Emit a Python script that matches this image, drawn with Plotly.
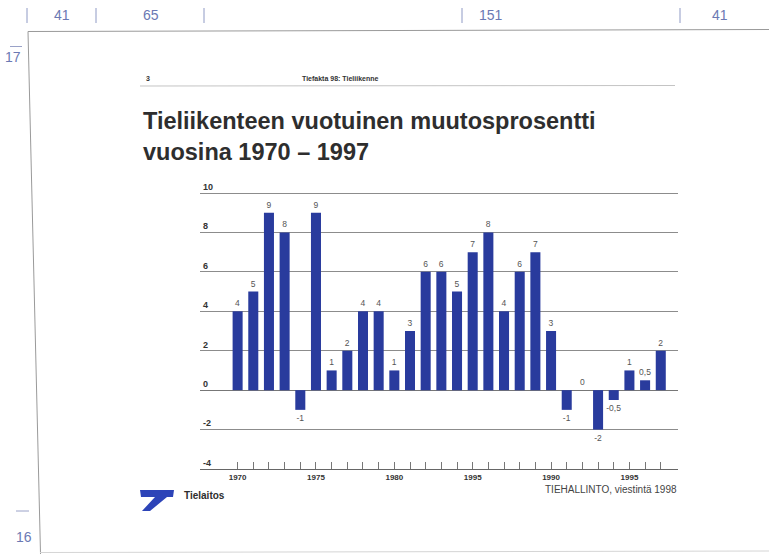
import plotly.graph_objects as go

# Annual percentage change in road traffic, 1970-1997
years = list(range(1970, 1998))
change = [4, 5, 9, 8, -1, 9, 1, 2, 4, 4, 1, 3, 6, 6, 5, 7, 8, 4, 6, 7, 3, -1, 0, -2, -0.5, 1, 0.5, 2]

# Year labels on the horizontal axis (as printed)
label_years = [1970, 1975, 1980, 1985, 1990, 1995]
label_texts = ["1970", "1975", "1980", "1995", "1990", "1995"]

y_ticks = [-4, -2, 0, 2, 4, 6, 8, 10]

W, H = 769, 554
BAR = "#293b9d"
MARGIN_BLUE = "#6b79b3"


def px(x):
    return x / W


def py(y):
    return 1 - y / H


def fmt(v):
    s = ("%g" % v)
    return s.replace(".", ",")


tick_text = [label_texts[label_years.index(y)] if y in label_years else "" for y in years]

# vertical scale: -4 sits at y=469 px, 10 at y=193 px; leave headroom for the top label
unit = (469 - 193) / 14.0
y_top = 10.7
top_px = 469 - (y_top + 4) * unit

fig = go.Figure()
fig.add_trace(go.Bar(
    x=years, y=change, width=0.64,
    marker=dict(color=BAR, line=dict(width=0)),
    text=[fmt(v) for v in change], textposition="outside",
    textfont=dict(family="Liberation Sans, Arial, sans-serif", size=8.5, color="#555555"),
    constraintext="none",
    cliponaxis=False, hoverinfo="x+y",
))

fig.update_layout(
    width=W, height=H,
    margin=dict(l=0, r=0, t=0, b=0),
    paper_bgcolor="white", plot_bgcolor="white",
    showlegend=False,
    bargap=0.36,
    uniformtext=dict(mode=False),
    xaxis=dict(
        domain=[px(200), px(678)],
        range=[1967.6, 1998.1],
        tickmode="array", tickvals=years, ticktext=tick_text,
        ticks="inside", ticklen=7, tickwidth=1, tickcolor="#777777",
        showgrid=False, zeroline=False,
        showline=True, linecolor="#666666", linewidth=1,
        tickfont=dict(family="Liberation Sans, Arial, sans-serif", size=8, color="#333333", weight="bold"),
        automargin=False, fixedrange=True,
    ),
    yaxis=dict(
        domain=[py(469), py(top_px)],
        range=[-4, y_top],
        tickmode="array", tickvals=y_ticks,
        ticktext=[str(v) for v in y_ticks],
        ticklabelposition="inside top",
        ticks="", showgrid=True, gridcolor="#8c8c8c", gridwidth=1,
        zeroline=True, zerolinecolor="#777777", zerolinewidth=1,
        showline=False,
        tickfont=dict(family="Liberation Sans, Arial, sans-serif", size=9, color="#333333", weight="bold"),
        automargin=False, fixedrange=True,
    ),
)

shapes = []
annotations = []

# Page frame of the printed sheet
shapes.append(dict(type="line", xref="paper", yref="paper",
                   x0=px(28), y0=py(31.5), x1=px(769), y1=py(29.5),
                   line=dict(color="#9a9a9a", width=1)))
shapes.append(dict(type="line", xref="paper", yref="paper",
                   x0=px(28), y0=py(31.5), x1=px(40.5), y1=py(554),
                   line=dict(color="#9a9a9a", width=1)))
shapes.append(dict(type="line", xref="paper", yref="paper",
                   x0=px(40), y0=py(552.5), x1=px(769), y1=py(551),
                   line=dict(color="#d5d5d5", width=1)))

# Column-width markers above the sheet
for x in [27, 96, 204, 462, 680]:
    shapes.append(dict(type="line", xref="paper", yref="paper",
                       x0=px(x), y0=py(8), x1=px(x), y1=py(23),
                       line=dict(color="#8f9ac5", width=1)))
for txt, x in [("41", 62), ("65", 151), ("151", 491), ("41", 720)]:
    annotations.append(dict(text=txt, x=px(x), y=py(15), xref="paper", yref="paper",
                            xanchor="center", yanchor="middle", showarrow=False,
                            font=dict(family="Liberation Sans Narrow, Liberation Sans, sans-serif",
                                      size=14, color=MARGIN_BLUE)))

# Row-height markers at the left edge
shapes.append(dict(type="line", xref="paper", yref="paper",
                   x0=px(10), y0=py(46.5), x1=px(22), y1=py(46.5),
                   line=dict(color="#9aa2c8", width=1)))
shapes.append(dict(type="line", xref="paper", yref="paper",
                   x0=px(16), y0=py(511), x1=px(29), y1=py(511),
                   line=dict(color="#9aa2c8", width=1)))
annotations.append(dict(text="17", x=px(13), y=py(57), xref="paper", yref="paper",
                        xanchor="center", yanchor="middle", showarrow=False,
                        font=dict(family="Liberation Sans Narrow, Liberation Sans, sans-serif",
                                  size=14, color=MARGIN_BLUE)))
annotations.append(dict(text="16", x=px(24), y=py(537), xref="paper", yref="paper",
                        xanchor="center", yanchor="middle", showarrow=False,
                        font=dict(family="Liberation Sans Narrow, Liberation Sans, sans-serif",
                                  size=14, color=MARGIN_BLUE)))

# Running header
annotations.append(dict(text="<b>3</b>", x=px(144), y=py(78), xref="paper", yref="paper",
                        xanchor="left", yanchor="middle", showarrow=False,
                        font=dict(family="Liberation Sans, Arial, sans-serif", size=7, color="#333333")))
annotations.append(dict(text="<b>Tiefakta 98: Tieliikenne</b>", x=px(300), y=py(78),
                        xref="paper", yref="paper", xanchor="left", yanchor="middle", showarrow=False,
                        font=dict(family="Liberation Sans, Arial, sans-serif", size=7, color="#333333")))
shapes.append(dict(type="line", xref="paper", yref="paper",
                   x0=px(140), y0=py(86), x1=px(675), y1=py(85.5),
                   line=dict(color="#c4c4c4", width=1)))

# Chart title
annotations.append(dict(text="<b>Tieliikenteen vuotuinen muutosprosentti<br>vuosina 1970 – 1997</b>",
                        x=px(141), y=py(106), xref="paper", yref="paper",
                        xanchor="left", yanchor="top", align="left", showarrow=False,
                        font=dict(family="Liberation Sans, Arial, sans-serif", size=23.5, color="#2e2e2e")))

# Publisher mark
shapes.append(dict(type="path", xref="paper", yref="paper",
                   path="M {} {} L {} {} L {} {} L {} {} L {} {} L {} {} L {} {} L {} {} Z".format(
                       px(140), py(490), px(174), py(490), px(173), py(497), px(167), py(497),
                       px(150), py(511), px(142), py(511), px(155), py(497), px(141), py(497)),
                   fillcolor="#2d44b8", line=dict(width=0)))
annotations.append(dict(text="<b>Tielaitos</b>", x=px(182), y=py(495), xref="paper", yref="paper",
                        xanchor="left", yanchor="middle", showarrow=False,
                        font=dict(family="Liberation Sans, Arial, sans-serif", size=10, color="#2e2e2e")))
annotations.append(dict(text="TIEHALLINTO, viestintä 1998", x=px(679), y=py(489),
                        xref="paper", yref="paper", xanchor="right", yanchor="middle", showarrow=False,
                        font=dict(family="Liberation Sans, Arial, sans-serif", size=10, color="#444444")))

fig.update_layout(shapes=shapes, annotations=annotations)

fig.write_html("out.html")
